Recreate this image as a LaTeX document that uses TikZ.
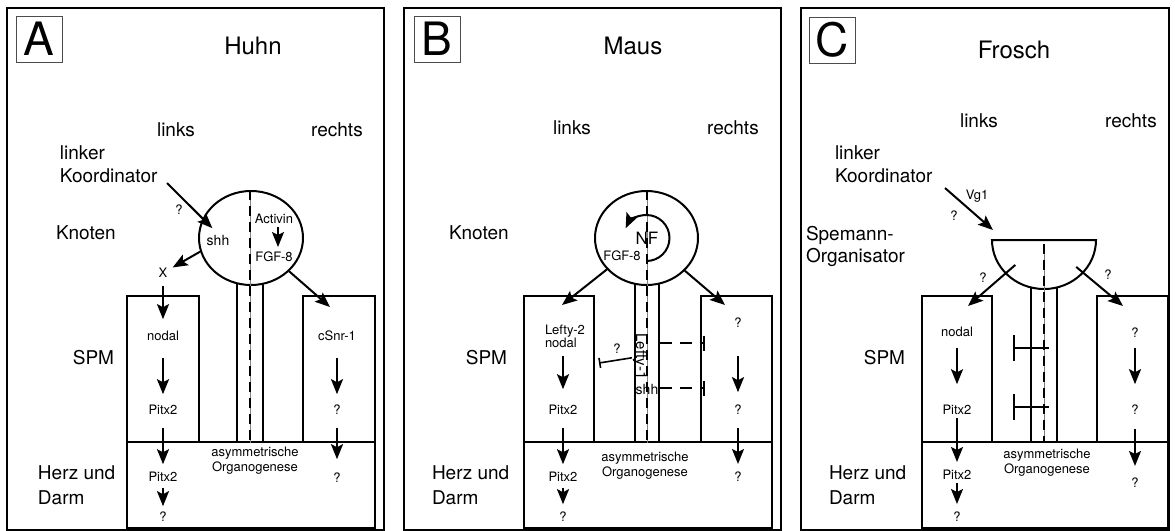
\documentclass[tikz,border=0pt]{standalone}
\usepackage{fontspec}
\setmainfont{TeX Gyre Heros}
\usetikzlibrary{arrows.meta, shapes.geometric}

\begin{document}
\begin{tikzpicture}[x=0.5pt, y=-0.5pt, line width=1pt,
  >={Stealth[length=7.5pt, width=6pt, inset=1.5pt]},
  frame/.style={draw, line width=1.2pt},
  tag/.style={draw=black!70, line width=0.5pt, minimum size=23pt, inner sep=0pt, font=\fontsize{23}{23}\selectfont},
  title/.style={font=\fontsize{12}{14}\selectfont},
  side/.style={font=\fontsize{9.5}{11.5}\selectfont, align=left, inner sep=0pt},
  small/.style={font=\fontsize{6.5}{7.5}\selectfont, inner sep=0pt},
  knot/.style={draw, ellipse, fill=white, inner sep=0pt},
  col/.style={draw, minimum width=13pt, inner sep=0pt},
  mid/.style={dash pattern=on 5pt off 3pt},
  axis/.style={gray, line width=0.3pt},
  inh/.style={-{Bar[width=#1]}}, inh/.default=5pt,
  box/.style={draw}]
\useasboundingbox (0,0) rectangle (1175,531);

\draw[frame] (7,8) rectangle (384,530);
\node[tag] (a-tag) at (39,39) {A};
\node[title] (a-title) at (253,46) {Huhn};
\node[side] (a-links) at (176,130) {links};
\node[side] (a-rechts) at (337,130) {rechts};
\node[side, anchor=west] (a-koord) at (59,164.5) {linker\\Koordinator};
\node[side, anchor=west] (a-knoten) at (55,233) {Knoten};
\node[side, anchor=east] (a-spm) at (115,358) {SPM};
\node[side, anchor=west, font=\fontsize{9.5}{12.5}\selectfont] (a-herz) at (37,485.5) {Herz und\\Darm};
\draw[box] (127,296) rectangle (199,442);
\draw[box] (303,296) rectangle (375,442);
\draw[box] (127,442) rectangle (375,528);
\node[col, minimum height=83.5pt] (a-col) at (250,358.5) {};
\node[knot, minimum width=52pt, minimum height=47pt] (a-knot) at (251,238) {};
\draw[axis] (a-col.center |- a-knot.north) -- (a-col.south);
\draw[mid] (a-col.center |- a-knot.north) -- (a-col.south);
\node[small, font=\fontsize{7}{8}\selectfont] (a-shh) at (218,240) {shh};
\node[small] (a-act) at (274,219) {Activin};
\node[small] (a-fgf) at (274,257) {FGF-8};
\node[small] (a-x) at (163,273) {X};
\node[small] (a-q) at (179,210) {?};
\node[small] (a-nodal) at (163,336) {nodal};
\node[small] (a-pitx) at (163,410) {Pitx2};
\node[small] (a-pitxb) at (163,477) {Pitx2};
\node[small] (a-qb) at (163,517) {?};
\node[small] (a-csnr) at (337,336) {cSnr-1};
\node[small] (a-qr) at (337,410) {?};
\node[small] (a-qrb) at (337,478) {?};
\node[small, align=center] (a-asym) at (255,460.5) {asymmetrische\\Organogenese};
\coordinate (a-kin) at (167,183);
\coordinate (a-rin) at (330,307);
\draw[->, shorten >=4pt] (a-kin) -- (a-shh.north);
\draw[->, shorten >=2.5pt] (a-knot.195) -- (a-x);
\draw[->, shorten <=1.2pt, shorten >=2pt] ([xshift=2pt]a-act.south) -- ([xshift=2pt]a-fgf.north);
\draw[->] (a-knot) -- (a-rin);
\draw[->, shorten <=3.5pt, shorten >=5.5pt] (a-x) -- (a-nodal);
\draw[->, shorten <=8pt, shorten >=5pt] (a-nodal) -- (a-pitx);
\draw[->, shorten <=6pt, shorten >=3.5pt] (a-pitx) -- (a-pitxb);
\draw[->, shorten <=2.5pt, shorten >=2.5pt] (a-pitxb) -- (a-qb);
\draw[->, shorten <=8pt, shorten >=5pt] (a-csnr) -- (a-qr);
\draw[->, shorten <=6pt, shorten >=6.5pt] (a-qr) -- (a-qrb);

\draw[frame] (404,8) rectangle (781,530);
\node[tag] (b-tag) at (437,39) {B};
\node[title] (b-title) at (633,46) {Maus};
\node[side] (b-links) at (572,128) {links};
\node[side] (b-rechts) at (733,128) {rechts};
\node[side, anchor=west] (b-knoten) at (448,233) {Knoten};
\node[side, anchor=east] (b-spm) at (508,358) {SPM};
\node[side, anchor=west, font=\fontsize{9.5}{12.5}\selectfont] (b-herz) at (431,485.5) {Herz und\\Darm};
\draw[box] (524,296) rectangle (594,442);
\draw[box] (701,296) rectangle (772,442);
\draw[box] (524,442) rectangle (772,528);
\node[col, minimum width=12pt, minimum height=83.5pt] (b-col) at (647,358.5) {};
\node[knot, minimum width=51.5pt, minimum height=47pt] (b-knot) at (646.5,238) {};
\draw[axis] (b-col.center |- b-knot.north) -- (b-col.south);
\draw[mid] (b-col.center |- b-knot.north) -- (b-col.south);
\draw[->] ([yshift=-11.5pt]b-knot.center) arc[start angle=-90, end angle=155, radius=11.5pt];
\node[small, font=\fontsize{8.5}{10}\selectfont] (b-nf) at (647,238) {NF};
\node[small] (b-fgf) at (622,256) {FGF-8};
\node[small, align=left, anchor=west, font=\fontsize{6.5}{6.5}\selectfont] (b-lefty) at (544,336.5) {Lefty-2\\nodal};
\node[small] (b-pitx) at (563,410) {Pitx2};
\node[small] (b-pitxb) at (563,477) {Pitx2};
\node[small] (b-qb) at (563,517) {?};
\node[small] (b-qr) at (738,323) {?};
\node[small] (b-qrb) at (738,410) {?};
\node[small] (b-qrc) at (738,477) {?};
\node[small, font=\fontsize{7.5}{9}\selectfont, rotate=-90] (b-lefty1) at (640,356.5) {Lefty-1};
\node[small] (b-q) at (617,349) {?};
\node[small, font=\fontsize{7}{8}\selectfont] (b-shh) at (647,389) {shh};
\node[small, align=center] (b-asym) at (645,465.5) {asymmetrische\\Organogenese};
\coordinate (b-lin) at (562,305);
\coordinate (b-rin) at (725,305);
\coordinate (b-lbar) at (599,363);
\coordinate (b-r1) at (705,343);
\coordinate (b-r2) at (705,388);
\draw[->] (b-knot) -- (b-lin);
\draw[->] (b-knot) -- (b-rin);
\draw[inh, line width=0.8pt] (b-lefty1) -- (b-lbar);
\draw[inh=7.5pt, dash pattern=on 6pt off 4pt] (b-col.east |- b-r1) -- (b-r1);
\draw[inh=7.5pt, dash pattern=on 6pt off 4pt] (b-col.east |- b-r2) -- (b-r2);
\draw[->, shorten <=3.6pt, shorten >=7.5pt] (b-lefty.south -| b-pitx) -- (b-pitx);
\draw[->, shorten <=6pt, shorten >=3.5pt] (b-pitx) -- (b-pitxb);
\draw[->, shorten <=2.5pt, shorten >=3.5pt] (b-pitxb) -- (b-qb);
\draw[->, shorten <=13.7pt, shorten >=6pt] (b-qr) -- (b-qrb);
\draw[->, shorten <=6pt, shorten >=3.6pt] (b-qrb) -- (b-qrc);

\draw[frame] (801,8) rectangle (1169,530);
\node[tag] (c-tag) at (832,40) {C};
\node[title] (c-title) at (1014,50) {Frosch};
\node[side] (c-links) at (979,121) {links};
\node[side] (c-rechts) at (1131,121) {rechts};
\node[side, anchor=west] (c-koord) at (834,164.5) {linker\\Koordinator};
\node[side, anchor=west, font=\fontsize{9.5}{11}\selectfont] (c-spemann) at (805,246) {Spemann-\\Organisator};
\node[side, anchor=east] (c-spm) at (906,358) {SPM};
\node[side, anchor=west, font=\fontsize{9.5}{12.5}\selectfont] (c-herz) at (828,485.5) {Herz und\\Darm};
\draw[box] (922,296) rectangle (992,442);
\draw[box] (1097,296) rectangle (1168,442);
\draw[box] (922,442) rectangle (1168,528);
\node[col, minimum height=80pt] (c-col) at (1044,362) {};
\coordinate (c-org) at (1044,240);
\draw[fill=white] ([xshift=-26pt]c-org) -- ([xshift=26pt]c-org) arc[start angle=0, end angle=-180, x radius=26pt, y radius=24.5pt] -- cycle;
\draw[axis] ([yshift=-2pt]c-org) -- (c-org |- c-col.south);
\draw[mid] ([yshift=-2pt]c-org) -- (c-org |- c-col.south);
\node[small] (c-vg) at (977,196) {Vg1};
\node[small] (c-q) at (954,216) {?};
\node[small] (c-ql) at (983,278) {?};
\node[small] (c-qr) at (1108,275) {?};
\node[small] (c-nodal) at (957,332) {nodal};
\node[small] (c-pitx) at (957,410) {Pitx2};
\node[small] (c-pitxb) at (957,475) {Pitx2};
\node[small] (c-qb) at (957,517) {?};
\node[small] (c-qra) at (1135,333) {?};
\node[small] (c-qrb) at (1135,410) {?};
\node[small] (c-qrc) at (1135,483) {?};
\node[small, align=center] (c-asym) at (1047,463) {asymmetrische\\Organogenese};
\coordinate (c-kin) at (945,188);
\coordinate (c-kout) at (993,230);
\coordinate (c-lin) at (968,306);
\coordinate (c-rin) at (1123,306);
\coordinate (c-l1) at (1013,348);
\coordinate (c-l2) at (1013,407);
\draw[->] (c-kin) -- (c-kout);
\draw[->, shorten <=19pt] (c-org) -- (c-lin);
\draw[->, shorten <=21pt] (c-org) -- (c-rin);
\draw[inh=13pt] ([xshift=2.5pt]c-org |- c-l1) -- (c-l1);
\draw[inh=13pt] ([xshift=2.5pt]c-org |- c-l2) -- (c-l2);
\draw[->, shorten <=5pt, shorten >=10pt] (c-nodal) -- (c-pitx);
\draw[->, shorten <=1.2pt, shorten >=3.6pt] (c-pitx) -- (c-pitxb);
\draw[->, shorten <=1.2pt, shorten >=3.6pt] (c-pitxb) -- (c-qb);
\draw[->, shorten <=4.6pt, shorten >=10pt] (c-qra) -- (c-qrb);
\draw[->, shorten <=6.6pt, shorten >=5.6pt] (c-qrb) -- (c-qrc);
\end{tikzpicture}
\end{document}
